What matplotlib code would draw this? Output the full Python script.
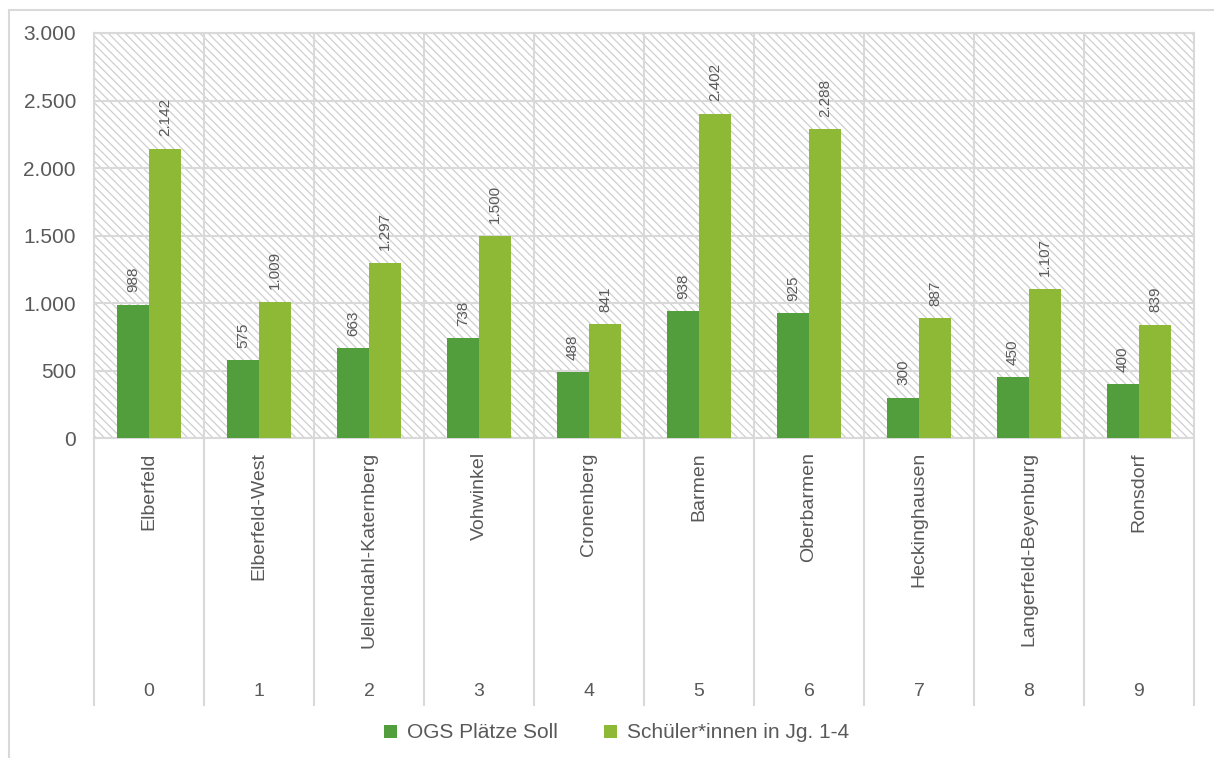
import matplotlib
matplotlib.use('Agg')
import matplotlib.pyplot as plt
import matplotlib.transforms as mtransforms
from matplotlib.patches import Rectangle
from matplotlib.ticker import FuncFormatter
import numpy as np

# Daten
bezirke = ['Elberfeld', 'Elberfeld-West', 'Uellendahl-Katernberg', 'Vohwinkel',
           'Cronenberg', 'Barmen', 'Oberbarmen', 'Heckinghausen',
           'Langerfeld-Beyenburg', 'Ronsdorf']
ogs_soll = [988, 575, 663, 738, 488, 938, 925, 300, 450, 400]
schueler = [2142, 1009, 1297, 1500, 841, 2402, 2288, 887, 1107, 839]
y_ticks = [0, 500, 1000, 1500, 2000, 2500, 3000]

C_DARK = '#529e3c'
C_LIGHT = '#8db937'
C_TEXT = '#595959'
C_GRID = '#d9d9d9'

plt.rcParams['font.family'] = ['Liberation Sans', 'DejaVu Sans']
plt.rcParams['hatch.color'] = '#cfcfcf'
plt.rcParams['hatch.linewidth'] = 0.9

fig = plt.figure(figsize=(12.14, 7.58), dpi=100)
ax = fig.add_axes([94 / 1214, 1 - 438 / 758, 1100 / 1214, 405 / 758])

# aeusserer Rahmen
fig.patches.append(Rectangle((9 / 1214, -0.01), 1.1, 1 - 10 / 758 + 0.01,
                             transform=fig.transFigure, fill=False,
                             edgecolor=C_GRID, linewidth=1.5, zorder=0))

# schraffierter Hintergrund
ax.set_facecolor('white')
ax.add_patch(Rectangle((0, 0), 1, 1, transform=ax.transAxes, facecolor='white',
                       edgecolor='#cfcfcf', hatch='\\\\\\\\', linewidth=0, zorder=0))

x = np.arange(len(bezirke))
w = 0.29
b1 = ax.bar(x - w / 2, ogs_soll, w, color=C_DARK, zorder=3, label='OGS Plätze Soll')
b2 = ax.bar(x + w / 2, schueler, w, color=C_LIGHT, zorder=3, label='Schüler*innen in Jg. 1-4')

def fmt(v):
    return f'{v:,.0f}'.replace(',', '.')

for bars, vals in ((b1, ogs_soll), (b2, schueler)):
    for rect, v in zip(bars, vals):
        ax.annotate(fmt(v), (rect.get_x() + rect.get_width() / 2, v),
                    xytext=(0, 9), textcoords='offset points', rotation=90,
                    ha='center', va='bottom', fontsize=11, color=C_TEXT)

ax.set_xlim(-0.5, len(bezirke) - 0.5)
ax.set_ylim(0, 3000)
ax.set_yticks(y_ticks)
ax.yaxis.set_major_formatter(FuncFormatter(lambda v, p: fmt(v)))
ax.tick_params(axis='y', length=0, pad=13, labelsize=15, labelcolor=C_TEXT)
ax.set_xticks([])

# Gitternetz
for yt in y_ticks:
    ax.axhline(yt, color=C_GRID, linewidth=1.5, zorder=1)
for xb in np.arange(-0.5, len(bezirke), 1.0):
    ax.axvline(xb, color=C_GRID, linewidth=1.5, zorder=1)
for s in ax.spines.values():
    s.set_color(C_GRID)
    s.set_linewidth(1.5)

# Kategorieachse mit zwei Ebenen
trans = mtransforms.blended_transform_factory(ax.transData, ax.transAxes)
for xb in np.arange(-0.5, len(bezirke), 1.0):
    ax.plot([xb, xb], [0, -0.66], transform=trans, color=C_GRID,
            linewidth=1.5, clip_on=False, zorder=1)
for i, name in enumerate(bezirke):
    ax.text(i, -0.035, name, transform=trans, rotation=90, ha='center', va='top',
            fontsize=14, color=C_TEXT)
    ax.text(i, -0.625, str(i), transform=trans, ha='center', va='center',
            fontsize=14, color=C_TEXT)

fig.legend(handles=[b1, b2], loc='center', bbox_to_anchor=(0.508, 1 - 733 / 758),
           ncol=2, frameon=False, fontsize=15, labelcolor=C_TEXT,
           handlelength=0.6, handleheight=0.6, handletextpad=0.5, columnspacing=2.2)

fig.savefig('out.png', dpi=100)
